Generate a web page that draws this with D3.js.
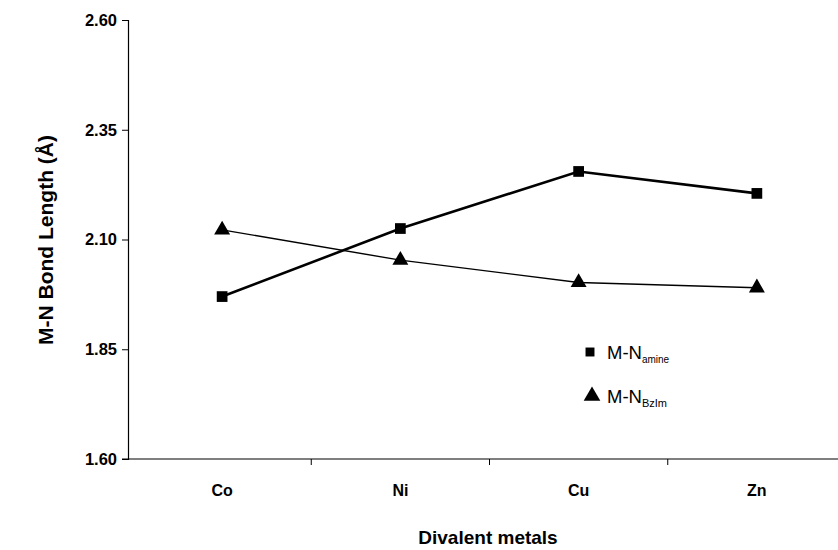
<!DOCTYPE html>
<html>
<head>
<meta charset="utf-8">
<script src="https://cdn.jsdelivr.net/npm/d3@7"></script>
<style>
  body { margin: 0; background: #fff; }
  text { font-family: "Liberation Sans", Arial, sans-serif; fill: #000; }
</style>
</head>
<body>
<svg id="chart" width="838" height="550"></svg>
<script>
var metals = ["Co", "Ni", "Cu", "Zn"];
var amine = [1.97, 2.125, 2.255, 2.205];
var bzim = [2.122, 2.053, 2.002, 1.99];
var yTicks = [1.60, 1.85, 2.10, 2.35, 2.60];

function bondChart() {
    var svg = d3.select("#chart");

    var x = d3.scaleBand().domain(metals).range([133, 846]),
        y = d3.scaleLinear().domain([1.6, 2.6]).range([459, 20]);

    // y axis
    var gy = svg.append("g")
        .attr("transform", "translate(128,0)")
        .call(d3.axisLeft(y).tickValues(yTicks).tickSize(6).tickPadding(5)
            .tickFormat(d3.format(".2f")));
    gy.select(".domain").attr("stroke", "#000").attr("stroke-width", 1.2);
    gy.selectAll(".tick line").attr("stroke", "#000");
    gy.selectAll(".tick text")
      .attr("font-size", "16.5px")
      .attr("font-weight", "bold")
      .style("font-family", "'Liberation Sans', Arial, sans-serif");

    // x axis: line with ticks on category boundaries
    svg.append("line")
       .attr("x1", 122).attr("x2", 838)
       .attr("y1", y(1.6)).attr("y2", y(1.6))
       .attr("stroke", "#000").attr("stroke-width", 1.2);

    svg.selectAll(".xtick")
       .data(metals.slice(1))
       .enter().append("line")
       .attr("class", "xtick")
       .attr("x1", function(d) { return x(d); })
       .attr("x2", function(d) { return x(d); })
       .attr("y1", y(1.6))
       .attr("y2", y(1.6) + 6)
       .attr("stroke", "#000");

    svg.selectAll(".xlab")
       .data(metals)
       .enter().append("text")
       .attr("class", "xlab")
       .attr("x", function(d) { return x(d) + x.bandwidth() / 2; })
       .attr("y", y(1.6) + 37)
       .attr("text-anchor", "middle")
       .attr("font-size", "16px")
       .attr("font-weight", "bold")
       .text(function(d) { return d; });

    svg.append("text")
       .attr("x", 488)
       .attr("y", 544)
       .attr("text-anchor", "middle")
       .attr("font-size", "19px")
       .attr("font-weight", "bold")
       .text("Divalent metals");

    svg.append("text")
       .attr("transform", "translate(53,240) rotate(-90)")
       .attr("text-anchor", "middle")
       .attr("font-size", "21px")
       .attr("font-weight", "bold")
       .text("M-N Bond Length (Å)");

    var cx = function(d, i) { return x(metals[i]) + x.bandwidth() / 2; };

    var line = d3.line()
        .x(function(d, i) { return cx(d, i); })
        .y(function(d) { return y(d); });

    svg.append("path")
       .datum(amine)
       .attr("d", line)
       .attr("fill", "none")
       .attr("stroke", "#000")
       .attr("stroke-width", 2.6);

    svg.append("path")
       .datum(bzim)
       .attr("d", line)
       .attr("fill", "none")
       .attr("stroke", "#000")
       .attr("stroke-width", 1.4);

    var square = d3.symbol().type(d3.symbolSquare).size(115);
    var triangle = d3.symbol().type(d3.symbolTriangle).size(110);

    svg.selectAll(".sq")
       .data(amine)
       .enter().append("path")
       .attr("class", "sq")
       .attr("d", square)
       .attr("transform", function(d, i) { return "translate(" + cx(d, i) + "," + y(d) + ")"; })
       .attr("fill", "#000");

    svg.selectAll(".tri")
       .data(bzim)
       .enter().append("path")
       .attr("class", "tri")
       .attr("d", triangle)
       .attr("transform", function(d, i) { return "translate(" + cx(d, i) + "," + y(d) + ")"; })
       .attr("fill", "#000");

    // legend
    var leg = svg.append("g");
    leg.append("path")
       .attr("d", d3.symbol().type(d3.symbolSquare).size(80))
       .attr("transform", "translate(590,352)");
    leg.append("path")
       .attr("d", d3.symbol().type(d3.symbolTriangle).size(120))
       .attr("transform", "translate(592,396)");

    var t1 = leg.append("text").attr("x", 607).attr("y", 359).attr("font-size", "18.5px");
    t1.append("tspan").text("M-N");
    t1.append("tspan").attr("font-size", "10px").attr("dy", 4).text("amine");

    var t2 = leg.append("text").attr("x", 607).attr("y", 403).attr("font-size", "18.5px");
    t2.append("tspan").text("M-N");
    t2.append("tspan").attr("font-size", "11px").attr("dy", 4).text("BzIm");
}

bondChart();
</script>
</body>
</html>
